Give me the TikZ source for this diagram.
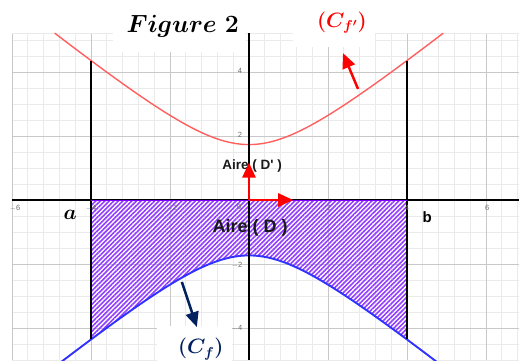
\documentclass[tikz,border=0pt]{standalone}
\usepackage{amsmath}
\usepackage{bm}
\usepackage{fontspec}
\newfontfamily\arialf{Liberation Sans}
\usetikzlibrary{patterns.meta,arrows.meta}
\definecolor{redc}{RGB}{255,95,95}
\definecolor{bluec}{RGB}{50,50,255}
\definecolor{hatchc}{RGB}{145,60,255}
\definecolor{borderc}{RGB}{127,0,255}
\definecolor{navyc}{RGB}{0,32,96}
\definecolor{minorg}{RGB}{234,234,234}
\definecolor{majorg}{RGB}{200,200,200}
\definecolor{tickc}{RGB}{110,110,110}
\newcommand\szTitle{\fontsize{27}{31}\selectfont\mathversion{bold}}
\newcommand\szCurve{\fontsize{21}{25}\selectfont\mathversion{bold}}
\newcommand\szA{\fontsize{20}{24}\selectfont\mathversion{bold}}
\newcommand\szB{\arialf\bfseries\fontsize{15}{18}\selectfont}
\newcommand\szDp{\arialf\bfseries\fontsize{13.5}{16}\selectfont}
\newcommand\szD{\arialf\bfseries\fontsize{18}{21}\selectfont}
\newcommand\szTick{\arialf\fontsize{7.5}{9}\selectfont}
\begin{document}
\begin{tikzpicture}[x=39.5pt,y=32pt,
  minorline/.style={draw=minorg, line width=0.6pt},
  majorline/.style={draw=majorg, line width=0.7pt},
  ticklbl/.style={font=\szTick, text=tickc, inner sep=0.5pt},
  whitebox/.style={fill=white},
  redarrow/.style={draw=red, line width=2.5pt, -{Triangle[length=15pt,width=13pt]}},
  navyarrow/.style={draw=navyc, line width=2.5pt, -{Triangle[length=15pt,width=13pt]}},
  bound/.style={draw=black, line width=1.7pt},
  axisline/.style={draw=black, line width=1.1pt},
  titlelbl/.style={anchor=base, inner sep=0pt, font=\szTitle},
  curvelbl/.style={inner sep=0pt, font=\szCurve},
  albl/.style={inner sep=0pt, font=\szA},
  blbl/.style={inner sep=0pt, font=\szB},
  dplbl/.style={inner sep=0pt, font=\szDp, text=black!90},
  dlbl/.style={inner sep=0pt, font=\szD, text=black!90}
]
\useasboundingbox (-6.3038,-5) rectangle (6.8354,6.25);
\clip (-6.3038,-5) rectangle (6.8354,6.25);
% grid
\foreach \i in {0,...,32} \draw[minorline] ({-6+0.4*\i},-5) -- ({-6+0.4*\i},5.22);
\foreach \j in {0,...,20} \draw[minorline] (-6,{-5+0.5*\j}) -- (6.8354,{-5+0.5*\j});
\foreach \i in {-6,-4,...,6} \draw[majorline] (\i,-5) -- (\i,5.22);
\foreach \j in {-4,-2,...,4} \draw[majorline] (-6,\j) -- (6.8354,\j);
\draw[minorline] (-6,5.22) -- (6.8354,5.22);
% white label boxes
\fill[whitebox] (-3.44,4.63) rectangle (-0.08,6.3);
\fill[whitebox] (1.11,4.78) rectangle (3.19,6.3);
\fill[whitebox] (-2.33,-3.94) rectangle (-0.42,-5.1);
% hatched region
\fill[pattern={Lines[angle=45,distance=3.2pt,line width=1.6pt]}, pattern color=hatchc]
  (-4,0) -- plot[domain=-4:4, samples=81] (\x,{-sqrt(\x*\x+3)}) -- (4,0) -- cycle;
% curves
\draw[redc, line width=1.4pt] plot[domain=-4.92:4.92, samples=121] (\x,{sqrt(\x*\x+3)});
\draw[bluec, line width=1.9pt] plot[domain=-6.3:6.84, samples=141] (\x,{-sqrt(\x*\x+3)});
% bounds x=a, x=b
\draw[bound] (-4,{sqrt(19)}) -- (-4,{-sqrt(19)});
\draw[bound] (4,{sqrt(19)}) -- (4,{-sqrt(19)});
% axes
\draw[axisline] (-6,0) -- (6.8354,0);
\draw[axisline] (0,-5) -- (0,5.22);
\draw[borderc, line width=1pt] (-4,0) -- (4,0);
% tick labels
\node[ticklbl] (tx1) at (-5.92,-0.25) {$-$6};
\node[ticklbl] (tx2) at (-4,-0.25) {$-$4};
\node[ticklbl] (tx3) at (-1.95,-0.25) {$-$2};
\node[ticklbl] (tx4) at (-0.25,-0.22) {0};
\node[ticklbl] (tx5) at (2.02,-0.25) {2};
\node[ticklbl] (tx6) at (4,-0.25) {4};
\node[ticklbl] (tx7) at (6.03,-0.25) {6};
\node[ticklbl] (ty1) at (-0.23,4.03) {4};
\node[ticklbl] (ty2) at (-0.23,2.03) {2};
\node[ticklbl] (ty3) at (-0.3,-2.03) {$-$2};
\node[ticklbl] (ty4) at (-0.3,-4.0) {$-$4};
% labels
\node[titlelbl] (ttl) at (-1.68,5.24) {$Figure\;2$};
\node[curvelbl, text=red] (cfp) at (2.35,5.55) {$(C_{f'})$};
\node[curvelbl, text=navyc] (cf) at (-1.22,-4.66) {$(C_{f})$};
\node[albl] (la) at (-4.53,-0.45) {$a$};
\node[blbl] (lb) at (4.51,-0.53) {b};
\node[dplbl] (dp) at (0.08,1.06) {Aire ( D' )};
\node[dlbl] (d) at (0.03,-0.875) {Aire ( D )};
% arrows
\coordinate (O) at (0,0);
\coordinate (J) at (0,1.17);
\coordinate (I) at (1.12,0);
\draw[redarrow] (O) -- (J);
\draw[redarrow] (O) -- (I);
\coordinate (r1) at (2.76,3.47);
\coordinate (r2) at (2.38,4.59);
\draw[redarrow] (r1) -- (r2);
\coordinate (n1) at (-1.70,-2.56);
\coordinate (n2) at (-1.32,-3.97);
\draw[navyarrow] (n1) -- (n2);
\end{tikzpicture}
\end{document}
